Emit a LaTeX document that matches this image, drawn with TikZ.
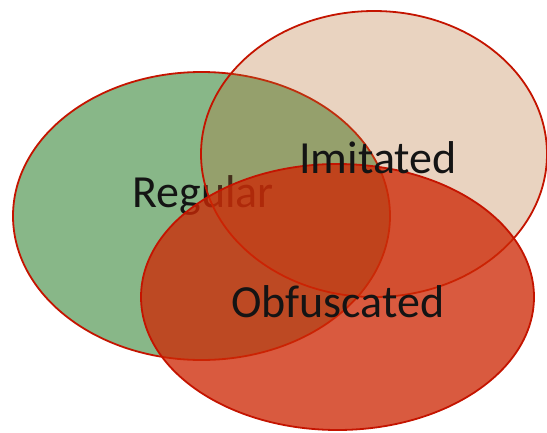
\documentclass[tikz,border=0pt]{standalone}
\usepackage{fontspec}
\setmainfont{Carlito}
\usepackage{tikz}
\usetikzlibrary{shapes.geometric}
\definecolor{vennline}{RGB}{196,20,0}
\definecolor{venngreen}{RGB}{136,183,136}
\definecolor{vennbeige}{RGB}{182,108,45}
\definecolor{vennred}{RGB}{206,40,5}
\definecolor{venntext}{RGB}{20,20,20}

\begin{document}
\begin{tikzpicture}[x=1pt,y=-1pt]
  \useasboundingbox (0,0) rectangle (547,432);
  \node[ellipse,draw=vennline,line width=1.8pt,fill=venngreen,inner sep=0pt,
        minimum width=377pt,minimum height=288pt] (reg) at (201.5,216) {};
  \node[anchor=base,text=venntext,font=\fontsize{46}{52}\selectfont] (reglabel)
    at (203,207) {Regular};
  \node[ellipse,draw=vennline,line width=1.8pt,fill=vennbeige,fill opacity=0.3,
        inner sep=0pt,minimum width=346pt,minimum height=286pt] (imi) at (374,154) {};
  \node[ellipse,draw=vennline,line width=1.8pt,fill=vennred,fill opacity=0.77,
        inner sep=0pt,minimum width=393pt,minimum height=266pt] (obf) at (337.5,297) {};
  \node[anchor=base,text=venntext,font=\fontsize{46}{52}\selectfont] (imilabel)
    at (378,173) {Imitated};
  \node[anchor=base,text=venntext,font=\fontsize{46}{52}\selectfont] (obflabel)
    at (338,317) {Obfuscated};
\end{tikzpicture}
\end{document}
